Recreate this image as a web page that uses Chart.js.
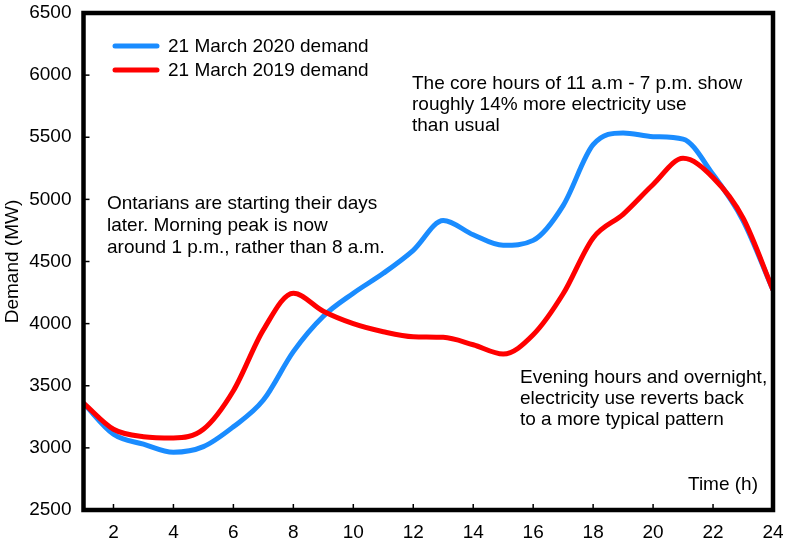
<!DOCTYPE html>
<html lang="en">
<head>
    <meta charset="UTF-8">
    <title>Ontario electricity demand, 21 March</title>
    <script src="https://cdn.jsdelivr.net/npm/chart.js"></script>
    <style>
        html, body { margin: 0; padding: 0; background: #fff; }
        #wrap { width: 787px; height: 541px; position: relative; }
    </style>
</head>
<body>
    <div id="wrap">
        <canvas id="demandChart"></canvas>
    </div>

    <script>
        // hourly demand (MW)
        const hours = [1, 2, 3, 4, 5, 6, 7, 8, 9, 10, 11, 12, 13, 14, 15, 16, 17, 18, 19, 20, 21, 22, 23, 24];
        const demand2020 = [3360, 3110, 3030, 2965, 3010, 3170, 3385, 3775, 4060, 4245, 4405, 4590, 4830, 4715, 4630, 4670, 4950, 5440, 5535, 5505, 5485, 5200, 4830, 4270];
        const demand2019 = [3360, 3150, 3090, 3080, 3150, 3460, 3950, 4245, 4100, 4000, 3935, 3895, 3890, 3830, 3755, 3910, 4240, 4690, 4880, 5120, 5330, 5175, 4850, 4270];
        const xTicks = [2, 4, 6, 8, 10, 12, 14, 16, 18, 20, 22, 24];
        const yTicks = [2500, 3000, 3500, 4000, 4500, 5000, 5500, 6000, 6500];

        const BLUE = '#1a8cff';
        const RED = '#ff0000';
        const FONT = '"Liberation Sans", Arial, sans-serif';

        // box round the plot, inward tick marks, legend and notes
        const decor = {
            id: 'decor',
            afterDraw(chart) {
                const ctx = chart.ctx;
                const a = chart.chartArea;
                const xs = chart.scales.x, ys = chart.scales.y;
                ctx.save();
                ctx.strokeStyle = '#000';

                ctx.lineWidth = 1.5;
                xTicks.forEach(v => {
                    const px = xs.getPixelForValue(v);
                    ctx.beginPath();
                    ctx.moveTo(px, a.bottom);
                    ctx.lineTo(px, a.bottom - 6);
                    ctx.stroke();
                });
                yTicks.forEach(v => {
                    const py = ys.getPixelForValue(v);
                    ctx.beginPath();
                    ctx.moveTo(a.left, py);
                    ctx.lineTo(a.left + 6, py);
                    ctx.stroke();
                });

                ctx.lineWidth = 4.5;
                ctx.strokeRect(a.left, a.top, a.right - a.left, a.bottom - a.top);

                // legend
                ctx.lineCap = 'round';
                ctx.lineWidth = 5;
                [[BLUE, 46, '21 March 2020 demand'], [RED, 70, '21 March 2019 demand']].forEach(([c, y, t]) => {
                    ctx.strokeStyle = c;
                    ctx.beginPath();
                    ctx.moveTo(115, y);
                    ctx.lineTo(157, y);
                    ctx.stroke();
                    ctx.fillStyle = '#000';
                    ctx.font = '19px ' + FONT;
                    ctx.textBaseline = 'middle';
                    ctx.fillText(t, 168, y + 1);
                });

                // notes
                ctx.fillStyle = '#000';
                ctx.font = '19px ' + FONT;
                ctx.textBaseline = 'alphabetic';
                ctx.textAlign = 'left';
                const notes = [
                    [412, [89, 110, 131], ['The core hours of 11 a.m - 7 p.m. show', 'roughly 14% more electricity use', 'than usual']],
                    [107, [209, 231, 253], ['Ontarians are starting their days', 'later. Morning peak is now', 'around 1 p.m., rather than 8 a.m.']],
                    [520, [383, 404, 425], ['Evening hours and overnight,', 'electricity use reverts back', 'to a more typical pattern']]
                ];
                notes.forEach(([x, ys2, lines]) => {
                    lines.forEach((l, i) => ctx.fillText(l, x, ys2[i]));
                });

                ctx.textAlign = 'right';
                ctx.fillText('Time (h)', 758, 490);
                ctx.restore();
            }
        };

        new Chart(document.getElementById('demandChart'), {
            type: 'line',
            data: {
                labels: hours,
                datasets: [{
                    label: '21 March 2020 demand',
                    data: hours.map((h, i) => ({ x: h, y: demand2020[i] })),
                    borderColor: BLUE,
                    borderWidth: 5,
                    cubicInterpolationMode: 'monotone',
                    pointRadius: 0,
                    fill: false,
                    order: 2
                }, {
                    label: '21 March 2019 demand',
                    data: hours.map((h, i) => ({ x: h, y: demand2019[i] })),
                    borderColor: RED,
                    borderWidth: 5,
                    cubicInterpolationMode: 'monotone',
                    pointRadius: 0,
                    fill: false,
                    order: 1
                }]
            },
            options: {
                responsive: true,
                maintainAspectRatio: false,
                animation: false,
                layout: { padding: { top: 13, right: 14, left: 0, bottom: 0 } },
                plugins: {
                    legend: { display: false },
                    tooltip: { enabled: false }
                },
                scales: {
                    x: {
                        type: 'linear',
                        min: 1,
                        max: 24,
                        grid: { display: false, drawTicks: false },
                        border: { display: false },
                        afterBuildTicks: s => { s.ticks = xTicks.map(v => ({ value: v })); },
                        afterFit: s => {
                            s.height = 31;
                            s.paddingLeft = 0;
                            s.paddingRight = 0;
                        },
                        ticks: {
                            color: '#000',
                            padding: 11,
                            maxRotation: 0,
                            font: { family: FONT, size: 19 }
                        }
                    },
                    y: {
                        min: 2500,
                        max: 6500,
                        grid: { display: false, drawTicks: false },
                        border: { display: false },
                        afterBuildTicks: s => { s.ticks = yTicks.map(v => ({ value: v })); },
                        afterFit: s => {
                            s.width = 83.5;
                            s.paddingTop = 0;
                            s.paddingBottom = 0;
                        },
                        title: {
                            display: true,
                            text: 'Demand (MW)',
                            color: '#000',
                            padding: { top: 1, bottom: 0 },
                            font: { family: FONT, size: 19 }
                        },
                        ticks: {
                            color: '#000',
                            padding: 12,
                            font: { family: FONT, size: 19 },
                            callback: v => String(v)
                        }
                    }
                }
            },
            plugins: [decor]
        });
    </script>
</body>
</html>
